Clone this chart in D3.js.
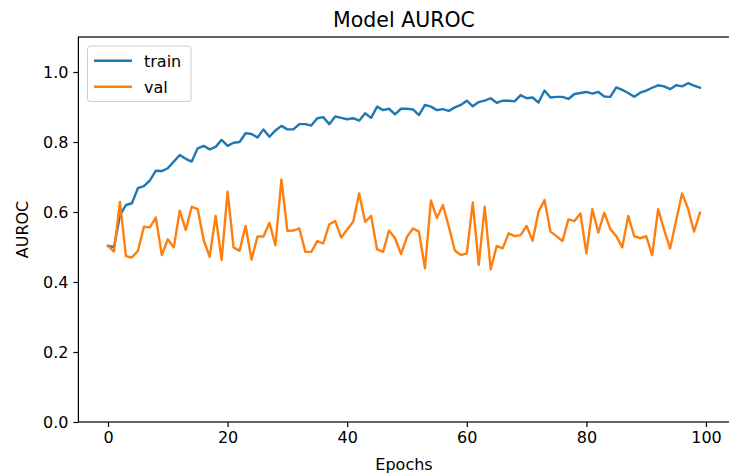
<!DOCTYPE html>
<html>
<head>
<meta charset="utf-8">
<script src="https://cdn.jsdelivr.net/npm/d3@7"></script>
<style>
  body { margin: 0; background: #fff; }
  text { font-family: "DejaVu Sans", sans-serif; fill: #000; }
</style>
</head>
<body>
<div id="chart"></div>
<script>
// AUROC per epoch
let trainAuroc = [
  0.503, 0.500, 0.590, 0.620, 0.625, 0.668, 0.674, 0.690, 0.718, 0.717,
  0.725, 0.744, 0.763, 0.752, 0.744, 0.782, 0.789, 0.779, 0.786, 0.806,
  0.789, 0.798, 0.800, 0.825, 0.823, 0.813, 0.836, 0.815, 0.833, 0.846,
  0.836, 0.836, 0.851, 0.851, 0.847, 0.868, 0.871, 0.851, 0.873, 0.869,
  0.865, 0.868, 0.861, 0.882, 0.869, 0.901, 0.891, 0.895, 0.879, 0.895,
  0.895, 0.893, 0.877, 0.906, 0.901, 0.891, 0.894, 0.889, 0.899, 0.906,
  0.918, 0.902, 0.914, 0.918, 0.925, 0.912, 0.918, 0.918, 0.916, 0.934,
  0.925, 0.927, 0.913, 0.947, 0.927, 0.929, 0.929, 0.923, 0.937, 0.940,
  0.943, 0.938, 0.943, 0.930, 0.929, 0.956, 0.949, 0.940, 0.929, 0.941,
  0.947, 0.955, 0.962, 0.959, 0.951, 0.962, 0.959, 0.968, 0.961, 0.955
];
let valAuroc = [
  0.503, 0.487, 0.629, 0.474, 0.470, 0.489, 0.558, 0.556, 0.584, 0.477,
  0.522, 0.499, 0.604, 0.549, 0.615, 0.608, 0.520, 0.472, 0.589, 0.463,
  0.658, 0.499, 0.489, 0.560, 0.464, 0.530, 0.530, 0.569, 0.505, 0.693,
  0.546, 0.547, 0.553, 0.486, 0.486, 0.517, 0.510, 0.565, 0.574, 0.527,
  0.550, 0.572, 0.653, 0.572, 0.589, 0.493, 0.486, 0.547, 0.525, 0.480,
  0.529, 0.553, 0.544, 0.439, 0.633, 0.583, 0.620, 0.558, 0.490, 0.477,
  0.482, 0.627, 0.449, 0.615, 0.436, 0.503, 0.496, 0.539, 0.531, 0.534,
  0.560, 0.518, 0.601, 0.634, 0.544, 0.531, 0.517, 0.579, 0.574, 0.596,
  0.482, 0.608, 0.541, 0.598, 0.551, 0.531, 0.499, 0.589, 0.531, 0.525,
  0.531, 0.477, 0.608, 0.549, 0.496, 0.575, 0.653, 0.610, 0.544, 0.598
];
let xTicks = [0, 20, 40, 60, 80, 100];
let yTicks = [0.0, 0.2, 0.4, 0.6, 0.8, 1.0];
let seriesNames = ["train", "val"];
let seriesColors = ["#1f77b4", "#ff7f0e"];

let W = 729, H = 475;
let plotLeft = 78.4, plotRight = 729.6, plotTop = 37, plotBottom = 422;

let svg = d3.select("#chart").append("svg")
  .attr("width", W).attr("height", H);

let x = d3.scaleLinear().domain([-4.95, 103.95]).range([plotLeft, plotRight]);
let y = d3.scaleLinear().domain([0, 1.1]).range([plotBottom, plotTop]);

// axes (ticks outward, matplotlib style)
let xAxis = svg.append("g")
  .attr("transform", `translate(0,${plotBottom})`)
  .call(d3.axisBottom(x).tickValues(xTicks).tickSize(5).tickPadding(5).tickFormat(d3.format("d")));
let yAxis = svg.append("g")
  .attr("transform", `translate(${plotLeft},0)`)
  .call(d3.axisLeft(y).tickValues(yTicks).tickSize(5).tickPadding(5).tickFormat(d3.format(".1f")));

[xAxis, yAxis].forEach(a => {
  a.select(".domain").remove();
  a.selectAll(".tick line").attr("stroke", "#000").attr("stroke-width", 1.2);
  a.selectAll(".tick text")
    .style("font-family", "DejaVu Sans")
    .style("font-size", "16px")
    .attr("fill", "#000");
});

// lines
let line = d3.line()
  .x((d, i) => x(i))
  .y(d => y(d));

[trainAuroc, valAuroc].forEach((data, k) => {
  svg.append("path")
    .datum(data)
    .attr("fill", "none")
    .attr("stroke", seriesColors[k])
    .attr("stroke-width", 2.4)
    .attr("stroke-linejoin", "round")
    .attr("stroke-linecap", "square")
    .attr("d", line);
});

// frame
svg.append("rect")
  .attr("x", plotLeft).attr("y", plotTop)
  .attr("width", plotRight - plotLeft).attr("height", plotBottom - plotTop)
  .attr("fill", "none").attr("stroke", "#000").attr("stroke-width", 1.2);

// title and labels
svg.append("text")
  .attr("x", (plotLeft + plotRight) / 2).attr("y", 27)
  .attr("text-anchor", "middle")
  .style("font-size", "20.5px")
  .text("Model AUROC");

svg.append("text")
  .attr("x", (plotLeft + plotRight) / 2).attr("y", 470)
  .attr("text-anchor", "middle")
  .style("font-size", "16px")
  .text("Epochs");

svg.append("text")
  .attr("transform", `translate(28,${(plotTop + plotBottom) / 2}) rotate(-90)`)
  .attr("text-anchor", "middle")
  .style("font-size", "16px")
  .text("AUROC");

// legend
let legend = svg.append("g");
legend.append("rect")
  .attr("x", 87.5).attr("y", 46)
  .attr("width", 103.5).attr("height", 55.5)
  .attr("rx", 3)
  .attr("fill", "#fff").attr("fill-opacity", 0.8)
  .attr("stroke", "#cccccc").attr("stroke-width", 1);

seriesNames.forEach((name, k) => {
  let ly = 60.7 + k * 26;
  legend.append("line")
    .attr("x1", 94).attr("x2", 132)
    .attr("y1", ly).attr("y2", ly)
    .attr("stroke", seriesColors[k]).attr("stroke-width", 2.4);
  legend.append("text")
    .attr("x", 144).attr("y", ly + 5.8)
    .style("font-size", "16px")
    .text(name);
});
</script>
</body>
</html>
